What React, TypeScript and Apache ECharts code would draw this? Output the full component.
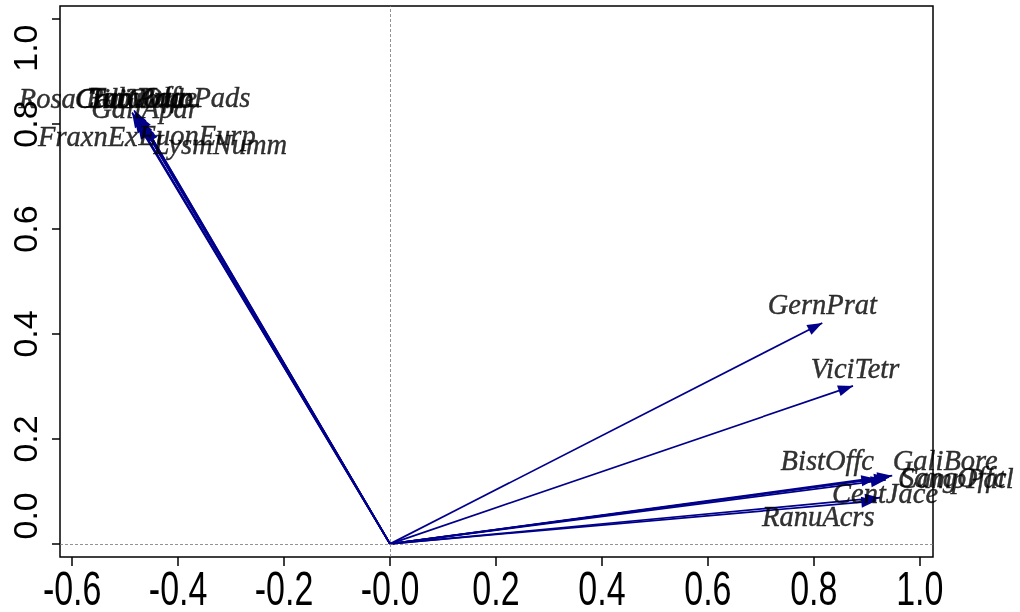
import { useEffect, useRef } from "react";
import * as echarts from "echarts";

// ---- data ----
const species = [
  "RosaCani", "CratMono", "TiliCord", "TaraOffc", "RubuIdae", "PrunPads",
  "GaliApar", "FraxnEx", "EuonEurp", "LysmNumm",
  "GernPrat", "ViciTetr", "BistOffc", "GaliBore", "SangOffc", "CampPatl",
  "CentJace", "RanuAcrs",
];
const axis1 = [
  -0.487, -0.483, -0.48, -0.478, -0.482, -0.475,
  -0.472, -0.476, -0.468, -0.462,
  0.816, 0.874, 0.918, 0.948, 0.942, 0.936,
  0.925, 0.918,
];
const axis2 = [
  0.822, 0.826, 0.82, 0.816, 0.812, 0.818,
  0.808, 0.8, 0.802, 0.795,
  0.421, 0.301, 0.124, 0.13, 0.127, 0.122,
  0.088, 0.082,
];
const xTickValues = [-0.6, -0.4, -0.2, 0, 0.2, 0.4, 0.6, 0.8, 1.0];
const xTickLabels = ["-0.6", "-0.4", "-0.2", "-0.0", "0.2", "0.4", "0.6", "0.8", "1.0"];
const yTickValues = [0, 0.2, 0.4, 0.6, 0.8, 1.0];
const yTickLabels = ["0.0", "0.2", "0.4", "0.6", "0.8", "1.0"];

// ---- styles / label placement (pixels) ----
const LABEL_OFFSET: Record<string, [number, number]> = {
  RosaCani: [-57, -14],
  CratMono: [0, -12],
  TiliCord: [0, -15],
  TaraOffc: [3, -18],
  RubuIdae: [7, -20],
  PrunPads: [55, -17],
  GaliApar: [5, -11],
  FraxnEx: [-50, 12],
  EuonEurp: [55, 12],
  LysmNumm: [75, 18],
  GernPrat: [0, -18],
  ViciTetr: [2, -17],
  BistOffc: [-49, -18],
  GaliBore: [53, -15],
  SangOffc: [64, 0],
  CampPatl: [70, -1],
  CentJace: [5, -4],
  RanuAcrs: [-58, 16],
};
const Y_LABEL_SHIFT = [-28, 0, 0, 0, 0, 29];
const ARROW_COLOR = "#00008B";
const ARROW_PATH = "path://M0,0L0,0M30,30L30,30M15,15L20.5,30L9.5,30Z";

export default function App() {
  const ref = useRef<HTMLDivElement>(null);
  useEffect(() => {
    if (!ref.current) return;
    const chart = echarts.init(ref.current, null, { renderer: "svg" });
    const arrows = species.map((s, i) => ({
      name: s,
      coords: [
        [0, 0],
        [axis1[i], axis2[i]],
      ],
    }));
    const points = species.map((s, i) => ({
      name: s,
      value: [axis1[i], axis2[i]],
      label: { offset: LABEL_OFFSET[s] || [0, -18] },
    }));
    chart.setOption({
      animation: false,
      grid: {
        left: 60,
        right: 87,
        top: 6,
        bottom: 55,
        show: true,
        borderColor: "#000",
        borderWidth: 1.5,
        backgroundColor: "transparent",
      },
      xAxis: {
        type: "value",
        min: -0.623,
        max: 1.025,
        splitLine: { show: false },
        axisLine: { show: false, onZero: false },
        axisTick: {
          show: true,
          customValues: xTickValues,
          length: 9,
          lineStyle: { color: "#000", width: 1.5 },
        },
        axisLabel: { show: false },
      },
      yAxis: {
        type: "value",
        min: -0.025,
        max: 1.025,
        splitLine: { show: false },
        axisLine: { show: false, onZero: false },
        axisTick: {
          show: true,
          customValues: yTickValues,
          length: 8,
          lineStyle: { color: "#000", width: 1.5 },
        },
        axisLabel: { show: false },
      },
      series: [
        {
          type: "lines",
          coordinateSystem: "cartesian2d",
          data: arrows,
          symbol: ["none", ARROW_PATH],
          symbolSize: 30,
          lineStyle: { color: ARROW_COLOR, width: 1.7, opacity: 1 },
          silent: true,
          z: 3,
        },
        {
          type: "scatter",
          data: points,
          symbolSize: 1,
          itemStyle: { color: "transparent" },
          silent: true,
          z: 4,
          label: {
            show: true,
            position: "inside",
            formatter: (p: any) => p.name,
            color: "#000",
            textBorderColor: "#000",
            textBorderWidth: 0.4,
            fontFamily: "'Liberation Serif', 'Times New Roman', serif",
            fontStyle: "italic",
            fontSize: 28.5,
            align: "center",
            verticalAlign: "middle",
          },
          markLine: {
            silent: true,
            symbol: "none",
            label: { show: false },
            lineStyle: { color: "#777", width: 0.8, type: [3, 2] },
            data: [{ xAxis: 0 }, { yAxis: 0 }],
          },
        },
      ],
    });

    const elements: any[] = [];
    xTickValues.forEach((v, i) => {
      const px = chart.convertToPixel({ xAxisIndex: 0 }, v) as number;
      elements.push({
        type: "text",
        x: px,
        y: 588,
        scaleX: 0.85,
        scaleY: 1.2,
        silent: true,
        style: {
          text: xTickLabels[i],
          fill: "#000",
          font: "40px 'Liberation Sans', Arial, sans-serif",
          lineHeight: 30,
          textAlign: "center",
          textVerticalAlign: "middle",
        },
      });
    });
    yTickValues.forEach((v, i) => {
      const py = chart.convertToPixel({ yAxisIndex: 0 }, v) as number;
      elements.push({
        type: "text",
        x: 25,
        y: py + Y_LABEL_SHIFT[i],
        rotation: Math.PI / 2,
        silent: true,
        style: {
          text: yTickLabels[i],
          fill: "#000",
          font: "34px 'Liberation Sans', Arial, sans-serif",
          textAlign: "center",
          textVerticalAlign: "middle",
        },
      });
    });
    chart.setOption({ graphic: { elements } });

    return () => chart.dispose();
  }, []);
  return (
    <div
      ref={ref}
      style={{ position: "fixed", left: 0, top: 0, width: 1020, height: 612 }}
    />
  );
}
